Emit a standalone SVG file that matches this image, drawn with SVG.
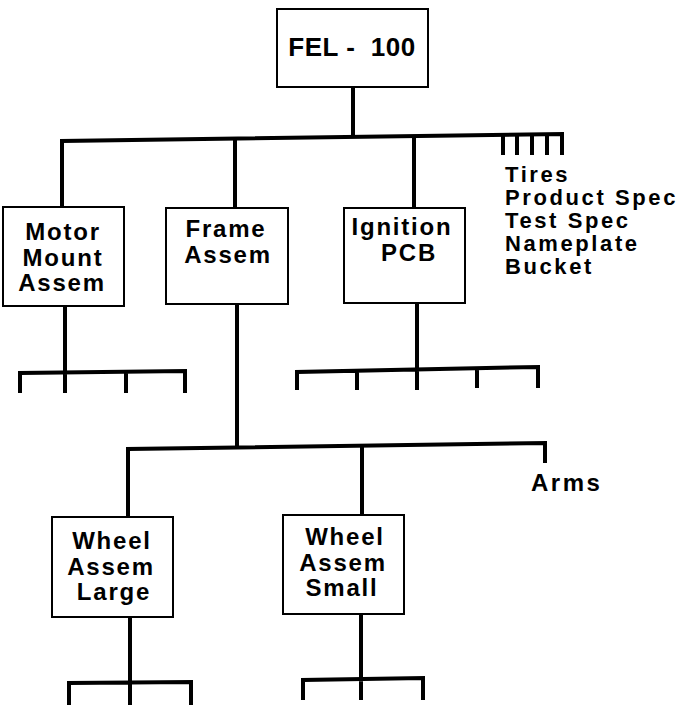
<svg xmlns="http://www.w3.org/2000/svg" width="682" height="705" viewBox="0 0 682 705">
<style>
.box{fill:#fff;stroke:#000;stroke-width:2}
.t{font-family:"Liberation Sans",Arial,sans-serif;font-weight:bold;font-size:24px;letter-spacing:1.8px;text-anchor:middle;fill:#000}
.l{font-family:"Liberation Sans",Arial,sans-serif;font-weight:bold;font-size:22px;letter-spacing:2.6px;fill:#000}
.c{fill:none;stroke:#000;stroke-width:4;stroke-linejoin:miter}
</style>
<rect width="682" height="705" fill="#fff"/>
<g id="connectors">
<path class="c" d="M353,87 V138"/>
<path class="c" d="M62,207 V141 L562,134 V155"/>
<path class="c" d="M235,208 V139"/>
<path class="c" d="M414,208 V136"/>
<path class="c" d="M503,134 V155 M517,134 V155 M532,134 V155 M547,134 V155"/>
<path class="c" d="M65,306 V372"/>
<path class="c" d="M20,393 V373 L185,371 V393 M65,372 V393 M126,372 V393"/>
<path class="c" d="M417,303 V370"/>
<path class="c" d="M297,390 V372 L538,367 V388 M357,371 V390 M417,369 V390 M477,368 V388"/>
<path class="c" d="M237,304 V447"/>
<path class="c" d="M128,517 V449 L545,443 V463"/>
<path class="c" d="M362,515 V446"/>
<path class="c" d="M130,617 V682"/>
<path class="c" d="M69,705 V683 L191,682 V705 M130,682 V705"/>
<path class="c" d="M361,614 V679"/>
<path class="c" d="M303,700 V680 L423,678 V700 M361,679 V700"/>
</g>
<g id="fel100">
<rect class="box" x="277" y="9" width="151" height="78"/>
<text class="t" x="352" y="56" style="font-size:26px;letter-spacing:0.5px" xml:space="preserve">FEL -  100</text>
</g>
<g id="motor-mount">
<rect class="box" x="3" y="207" width="121" height="99"/>
<text class="t" x="63" y="240">Motor</text>
<text class="t" x="63" y="266">Mount</text>
<text class="t" x="62" y="291">Assem</text>
</g>
<g id="frame-assem">
<rect class="box" x="166" y="208" width="122" height="96"/>
<text class="t" x="226" y="237">Frame</text>
<text class="t" x="228" y="263">Assem</text>
</g>
<g id="ignition-pcb">
<rect class="box" x="344" y="208" width="121" height="95"/>
<text class="t" x="402" y="235">Ignition</text>
<text class="t" x="409" y="261">PCB</text>
</g>
<g id="other-items">
<text class="l" x="505" y="182">Tires</text>
<text class="l" x="505" y="205">Product Spec</text>
<text class="l" x="505" y="228">Test Spec</text>
<text class="l" x="505" y="251">Nameplate</text>
<text class="l" x="505" y="274">Bucket</text>
</g>
<g id="arms">
<text class="l" x="531" y="491" style="font-size:24px;letter-spacing:2.5px">Arms</text>
</g>
<g id="wheel-large">
<rect class="box" x="52" y="517" width="121" height="100"/>
<text class="t" x="112" y="549">Wheel</text>
<text class="t" x="111" y="575">Assem</text>
<text class="t" x="114" y="600">Large</text>
</g>
<g id="wheel-small">
<rect class="box" x="283" y="515" width="121" height="99"/>
<text class="t" x="345" y="545">Wheel</text>
<text class="t" x="343" y="571">Assem</text>
<text class="t" x="342" y="596">Small</text>
</g>
</svg>
